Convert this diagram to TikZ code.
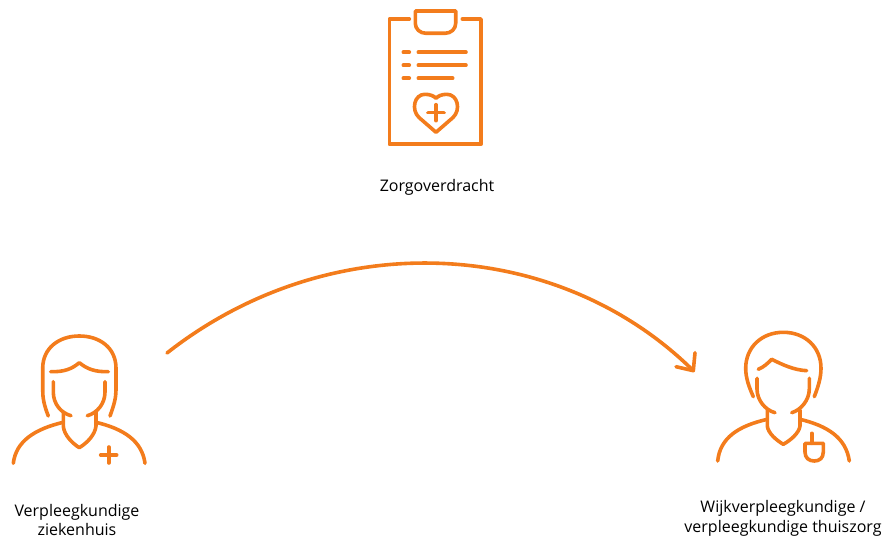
\documentclass[tikz,border=0pt]{standalone}
\usepackage{fontspec}
\setmainfont{Open Sans}
\definecolor{zorg}{HTML}{F37C1C}
\tikzset{
  icon/.style={draw=zorg,line width=3.6pt,line cap=round,line join=round},
  label/.style={text=black,font=\fontsize{16}{20.5}\selectfont,align=center,inner sep=0pt}
}
\begin{document}
\begin{tikzpicture}[x=1pt,y=-1pt]
\useasboundingbox (0,0) rectangle (884,537);
% clipboard
\draw[icon] (409.3,19) -- (389.3,19) -- (389.3,144.3) -- (481,144.3) -- (481,19) -- (462.3,19);
\draw[icon] (415.3,11) -- (455.7,11) -- (455.7,23.3) .. controls (455.7,29) and (451,33.3) .. (445,33.3) -- (426,33.3) .. controls (420,33.3) and (415.3,29) .. (415.3,23.3) -- cycle;
\draw[icon] (403.3,52.3) -- (409.3,52.3) (418.3,52.3) -- (466,52.3);
\draw[icon] (403.3,65.3) -- (409.3,65.3) (418.3,65.3) -- (466,65.3);
\draw[icon] (403.3,78.3) -- (409.3,78.3) (418.3,78.3) -- (452.7,78.3);
\draw[icon] (436,132.3) -- (419,117.5) .. controls (411,110) and (414,94.3) .. (425,94.3) .. controls (430,94.3) and (434,96) .. (436,98.3) .. controls (438,96) and (442,94.3) .. (446.7,94.3) .. controls (458,94.3) and (461,110) .. (453,117.5) -- cycle;
\draw[icon] (428,112.7) -- (444,112.7) (436,104.7) -- (436,120.7);
% nurse, hospital
\draw[icon] (48.3,416) .. controls (44,405) and (42.7,398) .. (42.7,390) -- (42.7,368.3) .. controls (42.7,348) and (59,336) .. (79.3,336) .. controls (100,336) and (116,348) .. (116,368.3) -- (116,390) .. controls (116,398) and (114,405) .. (110,416);
\draw[icon] (50.7,371.7) .. controls (64,372) and (72,369) .. (79.3,362.7) .. controls (87,369) and (95,372) .. (108.3,371.7);
\draw[icon] (53.3,381.7) -- (53.3,392) .. controls (53.3,404) and (61,413) .. (71,415.7);
\draw[icon] (105,381.7) -- (105,392) .. controls (105,404) and (97,413) .. (87.3,415.7);
\draw[icon] (63.3,412.3) -- (63.3,426) .. controls (64,435) and (72,443) .. (79.3,447.7) .. controls (87,443) and (95,435) .. (96,426) -- (96,412.3);
\draw[icon] (13.3,463.3) .. controls (16,441) and (35,429) .. (63.3,422.3);
\draw[icon] (96,422.3) .. controls (124,429) and (142,441) .. (145,463.3);
\draw[icon] (100.7,455) -- (116.7,455) (108.7,447) -- (108.7,463);
% nurse, home care
\draw[icon] (753.3,396.7) .. controls (749,387) and (745.7,378) .. (745.7,368.3) .. controls (745.7,347) and (762,332.3) .. (783.3,332.3) .. controls (805,332.3) and (821,347) .. (821,368.3) .. controls (821,378) and (818,387) .. (814.3,396.7);
\draw[icon] (758.3,369.3) .. controls (764,367) and (768,363) .. (771.7,359.3) .. controls (783,365) and (794,370) .. (806.7,370.7);
\draw[icon] (757,378.3) -- (757,389) .. controls (757,400) and (765,410) .. (775,412.7);
\draw[icon] (809.3,378.3) -- (809.3,389) .. controls (809.3,400) and (801,410) .. (791.7,412.7);
\draw[icon] (767.3,410) -- (767.3,426) .. controls (768,433) and (776,440) .. (783.3,444.3) .. controls (791,440) and (799,433) .. (800,426) -- (800,410);
\draw[icon] (717.7,461) .. controls (720,438) and (738,426) .. (767.3,419.3);
\draw[icon] (800,419.3) .. controls (828,426) and (846,438) .. (849.3,461);
\draw[icon] (805,443.3) -- (823.3,443.3) -- (823.3,452) .. controls (823.3,458) and (819.5,461) .. (814.3,461) .. controls (809,461) and (805,458) .. (805,452) -- cycle;
\draw[icon] (811.7,433.3) -- (811.7,443.3);
% arrow
\coordinate (from) at (167,353);
\coordinate (to) at (693.3,370.7);
\coordinate (armA) at (695,352.7);
\coordinate (armB) at (676,366.7);
\draw[icon] (from) .. controls (330,225) and (557,236) .. (to);
\draw[icon] (armA) -- (to) -- (armB);
% labels
\node[label] (title) at (437,187) {Zorgoverdracht};
\node[label,font=\fontsize{16}{18.5}\selectfont] (left) at (77,520) {Verpleegkundige\\ziekenhuis};
\node[label,font=\fontsize{16}{19.5}\selectfont] (right) at (783,518.5) {Wijkverpleegkundige /\\verpleegkundige thuiszorg};
\end{tikzpicture}
\end{document}
